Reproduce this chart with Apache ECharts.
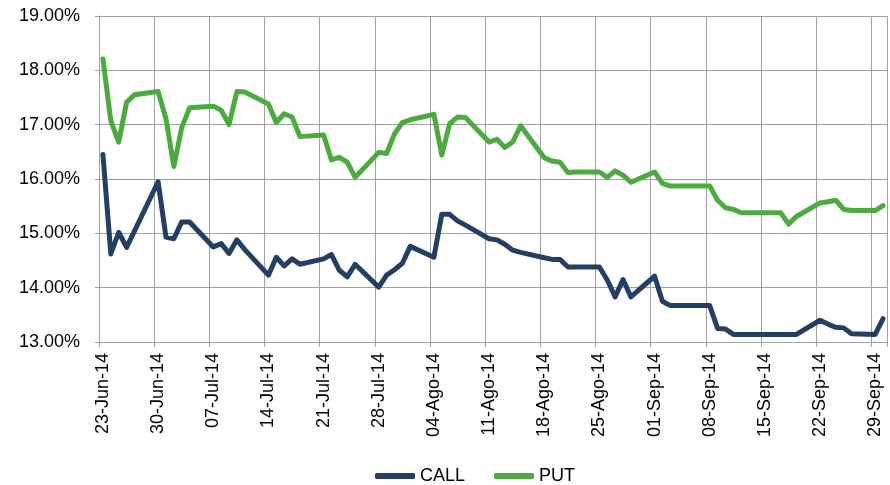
<!DOCTYPE html>
<html><head><meta charset="utf-8">
<script src="https://cdn.jsdelivr.net/npm/echarts@6/dist/echarts.min.js"></script>
<style>html,body{margin:0;padding:0;background:#fff}#c{width:890px;height:485px}</style>
</head><body><div id="c"></div>
<script>
const monthNames = ['Ene','Feb','Mar','Abr','May','Jun','Jul','Ago','Sep','Oct','Nov','Dic'];

const tradeDates = [
  '2014-06-23','2014-06-24','2014-06-25','2014-06-26','2014-06-27','2014-06-30',
  '2014-07-01','2014-07-02','2014-07-03','2014-07-04','2014-07-07','2014-07-08','2014-07-09','2014-07-10','2014-07-11',
  '2014-07-14','2014-07-15','2014-07-16','2014-07-17','2014-07-18','2014-07-21','2014-07-22','2014-07-23','2014-07-24','2014-07-25',
  '2014-07-28','2014-07-29','2014-07-30','2014-07-31',
  '2014-08-01','2014-08-04','2014-08-05','2014-08-06','2014-08-07','2014-08-08','2014-08-11','2014-08-12','2014-08-13','2014-08-14','2014-08-15',
  '2014-08-18','2014-08-19','2014-08-20','2014-08-21','2014-08-22','2014-08-25','2014-08-26','2014-08-27','2014-08-28','2014-08-29',
  '2014-09-01','2014-09-02','2014-09-03','2014-09-04','2014-09-05','2014-09-08','2014-09-09','2014-09-10','2014-09-11','2014-09-12',
  '2014-09-15','2014-09-16','2014-09-17','2014-09-18','2014-09-19','2014-09-22','2014-09-23','2014-09-24','2014-09-25','2014-09-26',
  '2014-09-29','2014-09-30'
];

const callValues = [
  16.45,14.62,15.02,14.74,15.04,15.95,
  14.93,14.90,15.21,15.21,14.75,14.81,14.63,14.88,14.70,
  14.23,14.56,14.40,14.53,14.43,14.53,14.61,14.32,14.20,14.43,
  14.01,14.23,14.33,14.45,
  14.76,14.56,15.35,15.35,15.23,15.15,14.90,14.88,14.80,14.69,14.65,
  14.55,14.52,14.52,14.38,14.38,14.38,14.14,13.83,14.15,13.83,
  14.21,13.75,13.67,13.67,13.67,13.67,13.25,13.24,13.14,13.14,
  13.14,13.14,13.14,13.14,13.14,13.40,13.33,13.27,13.26,13.15,
  13.14,13.43
];

const putValues = [
  18.21,17.07,16.68,17.41,17.55,17.61,
  17.11,16.23,16.95,17.31,17.34,17.27,17.00,17.61,17.60,
  17.38,17.04,17.20,17.14,16.78,16.81,16.35,16.40,16.31,16.03,
  16.49,16.47,16.83,17.04,
  17.09,17.19,16.44,17.02,17.14,17.13,16.68,16.73,16.58,16.68,16.98,
  16.39,16.33,16.31,16.12,16.13,16.13,16.03,16.15,16.07,15.94,
  16.13,15.92,15.87,15.87,15.87,15.87,15.61,15.47,15.44,15.38,
  15.38,15.38,15.38,15.17,15.31,15.56,15.58,15.61,15.44,15.42,
  15.42,15.51
];

const seriesNames = ['CALL','PUT'];
const seriesColors = ['#243f63','#4caa40'];

// Calendar day categories (date axis, as in the original)
function fmt(d){
  const dd = String(d.getUTCDate()).padStart(2,'0');
  return dd + '-' + monthNames[d.getUTCMonth()] + '-' + String(d.getUTCFullYear()).slice(2);
}
const categories = [];
const calKeys = [];
{
  let t = Date.parse(tradeDates[0] + 'T00:00:00Z');
  const end = Date.parse(tradeDates[tradeDates.length-1] + 'T00:00:00Z');
  while (t <= end) {
    const d = new Date(t);
    categories.push(fmt(d));
    calKeys.push(d.toISOString().slice(0,10));
    t += 86400000;
  }
}
function align(values){
  return calKeys.map(k => { const i = tradeDates.indexOf(k); return i >= 0 ? values[i] : null; });
}

const gridColor = '#a0a0a0';
const font = "'Liberation Sans', Arial, sans-serif";
const chart = echarts.init(document.getElementById('c'));
chart.setOption({
  animation: false,
  backgroundColor: '#ffffff',
  grid: { left: 99, right: 3, top: 16, bottom: 143, containLabel: false },
  legend: {
    data: seriesNames,
    left: 370, top: 462,
    icon: 'roundRect', itemWidth: 40, itemHeight: 6, itemGap: 29,
    textStyle: { fontSize: 18, color: '#000', fontFamily: font }
  },
  xAxis: {
    type: 'category',
    data: categories,
    boundaryGap: true,
    axisLine: { show: true, lineStyle: { color: gridColor, width: 1 } },
    axisTick: { show: true, interval: 6, length: 5, lineStyle: { color: gridColor } },
    splitLine: { show: true, interval: 6, lineStyle: { color: gridColor, width: 1 } },
    axisLabel: { interval: 6, rotate: 90, margin: 11, fontSize: 18, color: '#000', fontFamily: font, padding: [0,0,8,0] }
  },
  yAxis: {
    type: 'value',
    min: 13, max: 19, interval: 1,
    axisLine: { show: true, lineStyle: { color: gridColor, width: 1 } },
    axisTick: { show: true, length: 4, lineStyle: { color: gridColor } },
    splitLine: { show: true, lineStyle: { color: gridColor, width: 1 } },
    axisLabel: { margin: 19, fontSize: 18, color: '#000', fontFamily: font, formatter: v => v.toFixed(2) + '%' }
  },
  series: [
    { name: seriesNames[0], type: 'line', data: align(callValues), connectNulls: true, showSymbol: false, symbol: 'none',
      color: seriesColors[0], lineStyle: { width: 5, color: seriesColors[0], cap: 'round', join: 'round' } },
    { name: seriesNames[1], type: 'line', data: align(putValues), connectNulls: true, showSymbol: false, symbol: 'none',
      color: seriesColors[1], lineStyle: { width: 5, color: seriesColors[1], cap: 'round', join: 'round' } }
  ]
});
</script>
</body></html>
